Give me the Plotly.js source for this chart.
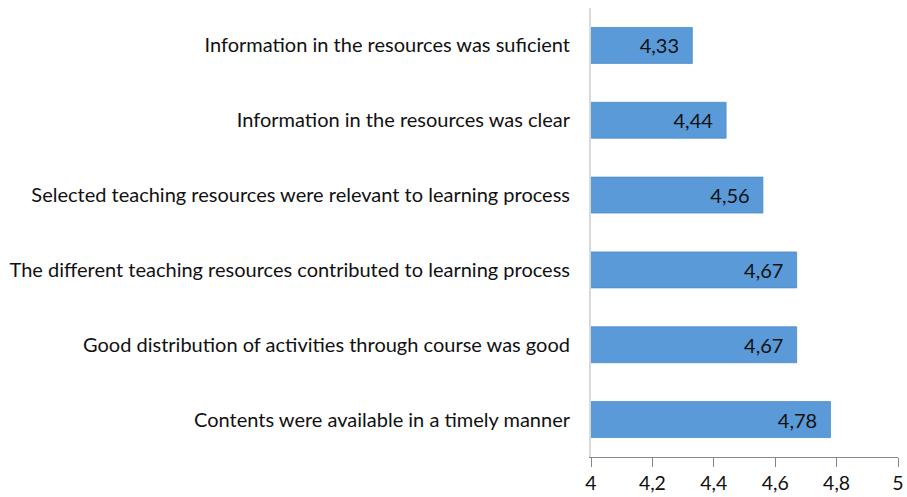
<!DOCTYPE html>
<html><head><meta charset="utf-8">
<script src="https://cdn.plot.ly/plotly-3.0.1.min.js"></script>
<style>html,body{margin:0;padding:0;background:#fff}</style>
</head><body>
<div id="chart" style="width:907px;height:497px"></div>
<script>
const categories = [
  "Information in the resources was suficient",
  "Information in the resources was clear",
  "Selected teaching resources were relevant to learning process",
  "The different teaching resources contributed to learning process",
  "Good distribution of activities through course was good",
  "Contents were available in a timely manner"
];
const values = [4.33, 4.44, 4.56, 4.67, 4.67, 4.78];
const tickValues = [4, 4.2, 4.4, 4.6, 4.8, 5];

const trace = {
  type: 'bar',
  orientation: 'h',
  y: categories,
  x: values,
  base: 0,
  marker: {color: '#5a9ad8', line: {color: '#4f8cc8', width: 0.8}},
  texttemplate: '%{x:.2f}\u00a0\u00a0',
  textposition: 'inside',
  insidetextanchor: 'end',
  textangle: 0,
  constraintext: 'none',
  textfont: {family: 'Lato', size: 20, color: '#111'},
  hoverinfo: 'none'
};

const layout = {
  width: 907, height: 497,
  margin: {l: 591, r: 9, t: 7.5, b: 39.5},
  separators: ', ',
  paper_bgcolor: '#fff', plot_bgcolor: '#fff',
  showlegend: false,
  bargap: 0.52,
  font: {family: 'Lato', color: '#111'},
  xaxis: {
    range: [4, 5], tickvals: tickValues,
    ticktext: tickValues.map(v => String(v).replace('.', ',')),
    tickmode: 'array',
    showgrid: false, zeroline: false,
    showline: true, linecolor: '#868686', linewidth: 1,
    ticks: 'outside', ticklen: 9, tickcolor: '#868686',
    tickfont: {size: 19.5, color: '#111'}
  },
  yaxis: {
    type: 'category', categoryorder: 'array', categoryarray: categories,
    autorange: 'reversed',
    showgrid: false, zeroline: false,
    showline: true, linecolor: '#d9d9d9', linewidth: 2,
    ticks: '', ticklabelstandoff: 15,
    tickfont: {size: 20, color: '#111'}
  }
};

Plotly.newPlot('chart', [trace], layout, {staticPlot: true});
</script>
</body></html>
